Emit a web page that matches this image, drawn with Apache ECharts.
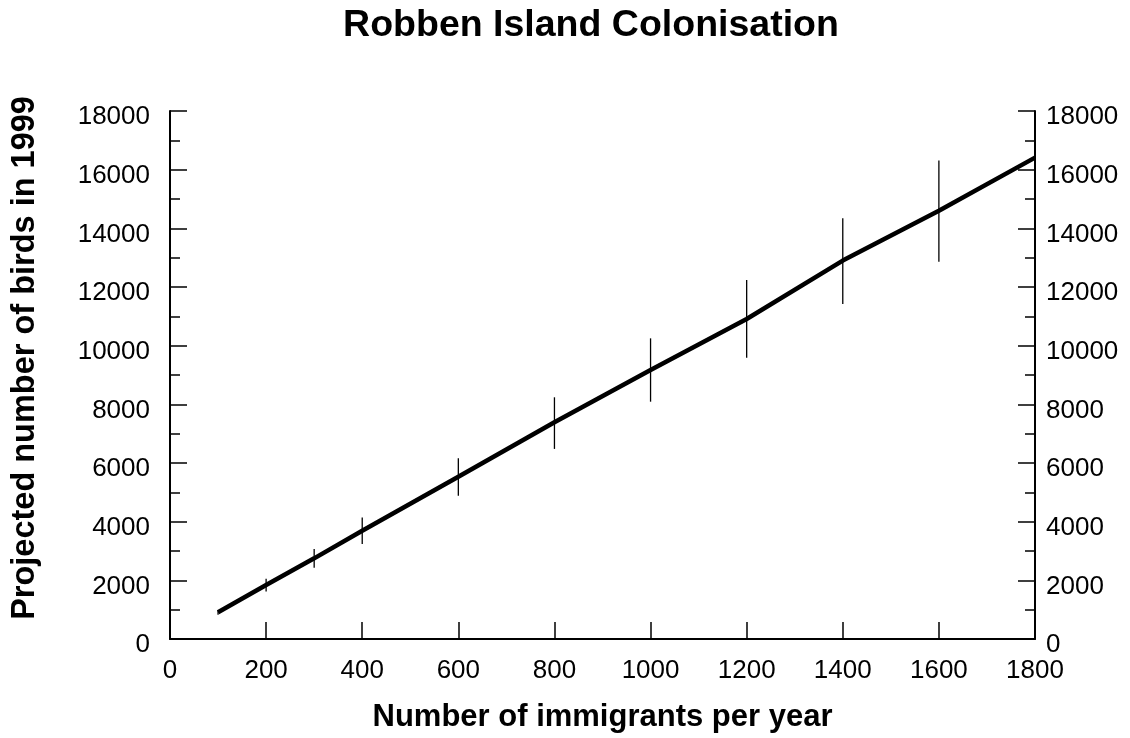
<!DOCTYPE html>
<html>
<head>
<meta charset="utf-8">
<script src="https://cdn.jsdelivr.net/npm/echarts@6/dist/echarts.min.js"></script>
<style>
html,body{margin:0;padding:0;background:#fff;}
#chart{width:1130px;height:738px;}
</style>
</head>
<body>
<div id="chart"></div>
<script>
var titleText = 'Robben Island Colonisation';
var xName = 'Number of immigrants per year';
var yName = 'Projected number of birds in 1999';
var immigrants = [100, 200, 300, 400, 600, 800, 1000, 1200, 1400, 1600, 1800];
var birds = [910, 1840, 2750, 3690, 5530, 7390, 9170, 10910, 12900, 14600, 16410];
var errLow = [830, 1620, 2430, 3240, 4880, 6480, 8090, 9590, 11420, 12860, null];
var errHigh = [990, 2050, 3070, 4140, 6160, 8240, 10250, 12240, 14340, 16310, null];

var lineData = immigrants.map(function (x, i) { return [x, birds[i]]; });
var errData = [];
immigrants.forEach(function (x, i) {
  if (errLow[i] != null && errHigh[i] != null) errData.push([x, errLow[i], errHigh[i]]);
});

var FONT = 'Liberation Sans, Arial, Helvetica, sans-serif';
function plain(v) { return String(v); }

function yAxisCfg(pos) {
  return {
    type: 'value',
    position: pos,
    min: 0, max: 18000, interval: 2000,
    axisLine: { show: true, lineStyle: { color: '#000', width: 2 } },
    axisTick: { show: true, inside: true, length: 17, lineStyle: { color: '#000', width: 1.5 } },
    minorTick: { show: true, splitNumber: 2, length: 10, lineStyle: { color: '#000', width: 1.5 } },
    splitLine: { show: false },
    axisLabel: {
      color: '#000', fontFamily: FONT, fontSize: 26,
      margin: pos === 'left' ? 20 : 11,
      verticalAlign: 'top',
      lineHeight: 12,
      formatter: plain
    }
  };
}

var chart = echarts.init(document.getElementById('chart'), null, { renderer: 'canvas' });
var yLeft = yAxisCfg('left');
yLeft.name = yName;
yLeft.nameLocation = 'middle';
yLeft.nameGap = 128;
yLeft.nameRotate = 90;
yLeft.nameTextStyle = { color: '#000', fontFamily: FONT, fontSize: 32.5, fontWeight: 'bold', padding: [0, 0, 0, 34] };
var yRight = yAxisCfg('right');

chart.setOption({
  backgroundColor: '#fff',
  animation: false,
  title: {
    text: titleText,
    left: 586,
    textAlign: 'center',
    top: 2,
    textStyle: { color: '#000', fontFamily: FONT, fontSize: 37.5, fontWeight: 'bold' }
  },
  grid: { left: 170, right: 95, top: 111, bottom: 99, containLabel: false, outerBoundsMode: 'none' },
  xAxis: {
    type: 'value',
    min: 0, max: 1800, interval: 200,
    name: xName,
    nameLocation: 'middle',
    nameGap: 63,
    nameTextStyle: { color: '#000', fontFamily: FONT, fontSize: 31, fontWeight: 'bold' },
    axisLine: { show: true, lineStyle: { color: '#000', width: 2 } },
    axisTick: { show: true, inside: true, length: 17, lineStyle: { color: '#000', width: 1.5 } },
    splitLine: { show: false },
    axisLabel: { color: '#000', fontFamily: FONT, fontSize: 26, margin: 19, formatter: plain }
  },
  yAxis: [yLeft, yRight],
  series: [
    {
      type: 'custom',
      name: 'error',
      xAxisIndex: 0,
      yAxisIndex: 0,
      data: errData,
      encode: { x: 0, y: [1, 2] },
      renderItem: function (params, api) {
        var x = api.value(0);
        var p1 = api.coord([x, api.value(1)]);
        var p2 = api.coord([x, api.value(2)]);
        return {
          type: 'line',
          shape: { x1: p1[0], y1: p1[1], x2: p2[0], y2: p2[1] },
          style: { stroke: '#000', lineWidth: 1.3 }
        };
      },
      z: 3
    },
    {
      type: 'line',
      name: 'birds',
      xAxisIndex: 0,
      yAxisIndex: 0,
      data: lineData,
      showSymbol: false,
      symbol: 'none',
      lineStyle: { color: '#000', width: 4.5 },
      z: 4
    }
  ]
});
</script>
</body>
</html>
